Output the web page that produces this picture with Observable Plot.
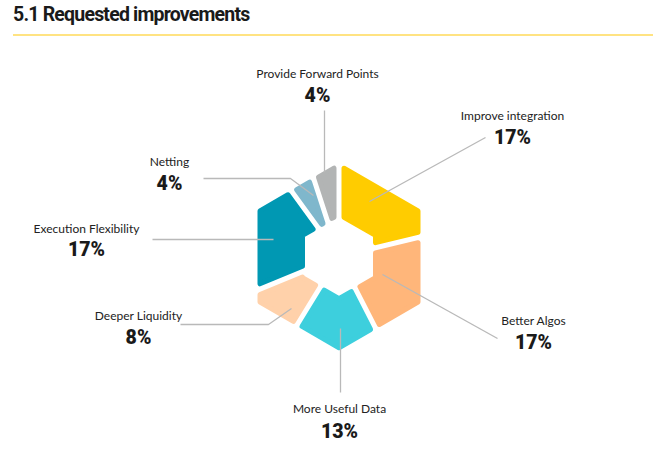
<!DOCTYPE html>
<html><head><meta charset="utf-8">
<script src="https://cdn.jsdelivr.net/npm/d3@7"></script>
<script src="https://cdn.jsdelivr.net/npm/@observablehq/plot@0.6"></script>
<style>
body{margin:0;background:#fff;}
#title{font-family:Roboto, sans-serif;font-weight:700;font-size:19.5px;letter-spacing:-0.8px;color:#1a1a1a;position:absolute;left:13px;top:3px;white-space:nowrap;}
#rule{position:absolute;left:13px;width:640px;top:34px;height:1.5px;background:#FFE382;}
#chart{position:absolute;left:0;top:40px;}
</style></head><body>
<div id="title">5.1 Requested improvements</div>
<div id="rule"></div>
<div id="chart"></div>
<script>
// ---- data ----
const categories = ["Improve integration","Better Algos","More Useful Data","Deeper Liquidity","Execution Flexibility","Netting","Provide Forward Points"];
const values = [17,17,13,8,17,4,4];
const colors = ["#FFCC00","#FFB67A","#3DCFDD","#FFD1AA","#0098B3","#7FB7CC","#B2B4B4"];
const pctLabels = values.map(v => v + "%");

// ---- layout (annotation placement, pixels) ----
const cx = 338.5, cy = 256, outerApothem = 81.5, innerApothem = 34, gap = 5, round = 2.5;
const labelLayout = [
  {x:512, y:116, py:137, lead:[[485,137],[369,201]]},
  {x:533, y:321, py:342, lead:[[497,338],[382,274]]},
  {x:339, y:409, py:431, lead:[[340,392],[340,328]]},
  {x:138, y:316, py:337, lead:[[180,324],[268,324],[291,308]]},
  {x:86,  y:229, py:249, lead:[[152,239],[273,239]]},
  {x:169, y:162, py:183, lead:[[203,178],[290,178],[313,195]]},
  {x:317, y:74,  py:95,  lead:[[324,110],[324,172]]}
];

// ---- hexagonal donut geometry from pie angles ----
const rad = Math.PI/180;
const u = a => [Math.sin(a*rad), -Math.cos(a*rad)];
const normals = d3.range(6).map(k => u(30 + 60*k));
const dOff = gap/2 + round;
function exitT(o, dir, A){
  let t = Infinity;
  for (const n of normals){
    const dn = dir[0]*n[0] + dir[1]*n[1];
    if (dn > 1e-9){ const tt = (A - (o[0]*n[0] + o[1]*n[1]))/dn; if (tt < t) t = tt; }
  }
  return t;
}
function hit(a, side, A){
  const n = u(a + side*90), o = [dOff*n[0], dOff*n[1]], dir = u(a);
  const t = exitT(o, dir, A);
  return [o[0] + t*dir[0], o[1] + t*dir[1]];
}
const angOf = p => { let a = Math.atan2(p[0], -p[1])/rad; if (a < 0) a += 360; return a; };
const total = d3.sum(values);
const Ao = outerApothem - round, Ai = innerApothem + round;
const Ro = Ao/Math.cos(30*rad), Ri = Ai/Math.cos(30*rad);
const vertexAngles = [60,120,180,240,300];
const segPts = [];
let acc = 0;
categories.forEach((name, i) => {
  const a0 = acc/total*360; acc += values[i]; const a1 = acc/total*360;
  const p0o = hit(a0, 1, Ao), p1o = hit(a1, -1, Ao), p1i = hit(a1, -1, Ai), p0i = hit(a0, 1, Ai);
  const pts = [p0o];
  const lo = angOf(p0o), hi = angOf(p1o);
  vertexAngles.filter(v => v > lo && v < hi).forEach(v => { const w = u(v); pts.push([Ro*w[0], Ro*w[1]]); });
  pts.push(p1o, p1i);
  const li = angOf(p0i), hii = angOf(p1i);
  vertexAngles.filter(v => v > li && v < hii).reverse().forEach(v => { const w = u(v); pts.push([Ri*w[0], Ri*w[1]]); });
  pts.push(p0i);
  pts.forEach(p => segPts.push({name, x: cx + p[0], y: cy + p[1]}));
});

const labels = categories.map((name, i) => ({name, pct: pctLabels[i], ...labelLayout[i]}));
const leadPts = labels.flatMap(l => l.lead.map(p => ({name: l.name, x: p[0], y: p[1]})));

const plot = Plot.plot({
  width: 653, height: 418, margin: 0,
  x: {domain: [0, 653], range: [0, 653], axis: null},
  y: {domain: [40, 458], range: [0, 418], axis: null},
  color: {domain: categories, range: colors},
  style: {background: "#fff"},
  marks: [
    Plot.line(segPts, {x: "x", y: "y", z: "name", fill: "name", stroke: "name", strokeWidth: 2*round, curve: "linear-closed", strokeLinejoin: "round"}),
    Plot.line(leadPts, {x: "x", y: "y", z: "name", stroke: "#b9b9b9", strokeWidth: 1.3, strokeLinejoin: "miter", strokeLinecap: "butt"}),
    Plot.text(labels, {x: "x", y: "y", text: "name", fontSize: 12, fill: "#222", fontFamily: "Lato, sans-serif"}),
    Plot.text(labels, {x: "x", y: "py", text: "pct", fontSize: 19.5, fontWeight: 900, fill: "#1a1a1a", fontFamily: "Roboto, sans-serif"})
  ]
});
document.getElementById("chart").append(plot);
</script>
</body></html>
